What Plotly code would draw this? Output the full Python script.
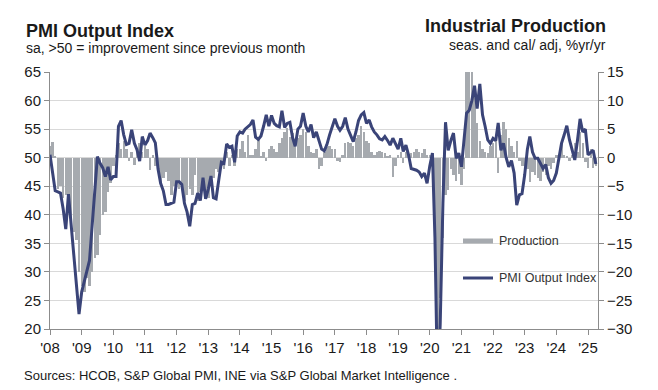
import pandas as pd
import plotly.graph_objects as go

# ---------------- data ----------------
months = pd.date_range("2008-01-01", periods=208, freq="MS")

pmi_output = [
    # 2008
    50.5, 47.5, 44.2, 44.0, 43.8, 41.0, 37.5, 43.6, 38.0, 33.0, 28.0, 22.6,
    # 2009
    26.5, 28.3, 30.2, 32.0, 38.0, 44.0, 50.2, 49.0, 48.2, 46.7, 48.4, 46.1,
    # 2010
    46.7, 46.7, 55.5, 56.5, 54.0, 52.3, 52.5, 54.9, 52.5, 51.4, 49.4, 53.7,
    # 2011
    52.2, 53.0, 54.3, 53.5, 52.6, 48.0, 45.5, 44.2, 41.8, 41.8, 42.0, 42.2,
    # 2012
    45.8, 45.8, 45.3, 42.0, 40.5, 38.0, 41.8, 42.0, 43.8, 42.5, 46.5, 42.8,
    # 2013
    44.5, 46.8, 43.0, 42.8, 46.0, 49.2, 49.0, 52.4, 51.8, 52.0, 49.2, 53.8,
    # 2014
    54.5, 54.3, 55.0, 55.5, 55.8, 56.6, 53.6, 53.2, 53.8, 55.5, 57.5, 55.5,
    # 2015
    57.4, 56.0, 55.6, 55.4, 58.2, 55.3, 56.0, 56.2, 53.5, 52.0, 55.0, 55.5,
    # 2016
    57.8, 55.5, 54.5, 55.8, 53.5, 54.5, 52.8, 51.5, 51.2, 52.3, 54.0, 55.4,
    # 2017
    56.8, 55.5, 54.8, 55.5, 57.0, 55.0, 54.0, 52.8, 54.5, 56.5, 57.5, 57.9,
    # 2018
    56.0, 56.6, 55.4, 54.5, 54.0, 53.3, 53.1, 53.7, 53.0, 52.2, 53.4, 52.5,
    # 2019
    51.5, 53.4, 51.1, 52.2, 50.5, 48.1, 48.0, 47.8, 47.5, 46.7, 47.3, 45.5,
    # 2020
    48.5, 50.8, 36.0, 9.0, 21.0, 42.0, 56.2, 51.3, 53.0, 54.3, 49.9, 50.8,
    # 2021
    48.4, 54.0, 57.8, 58.3, 60.0, 62.6, 58.6, 62.9, 57.5, 55.5, 53.1, 52.5,
    # 2022
    53.4, 53.0, 56.1, 51.3, 52.5, 50.0, 48.4, 49.5, 47.3, 41.7, 43.5, 43.7,
    # 2023
    47.0, 51.5, 53.7, 51.0, 49.9, 49.9, 49.0, 48.1, 48.8, 46.5, 45.5, 46.0,
    # 2024
    47.3, 50.0, 52.5, 54.0, 55.6, 53.1, 51.5, 49.6, 53.0, 56.8, 54.5, 55.0,
    # 2025
    50.5, 51.0, 51.3, 48.9,
]

production_yoy = [
    # 2008
    2.0, 2.8, 0.3, -5.5, -5.0, -7.0, -6.5, -8.5, -12.3, -13.0, -14.5, -20.0,
    # 2009
    -22.5, -23.5, -21.0, -22.5, -20.0, -17.5, -17.0, -13.5, -10.0, -9.5, -6.0, -4.5,
    # 2010
    -1.5, 0.5, 2.5, 1.5, 3.0, 1.5, -0.5, 1.0, -1.3, 1.5, 2.5, 1.0,
    # 2011
    2.0, 1.5, -2.2, 0.5, -1.5, -1.0, -4.5, -3.5, -2.5, -4.0, -6.5, -5.0,
    # 2012
    -4.5, -5.5, -5.0, -7.5, -6.5, -5.5, -6.5, -3.0, -7.5, -6.0, -4.5, -6.0,
    # 2013
    -7.0, -5.0, -3.5, -2.0, -2.5, -1.5, -2.0, 1.0, -1.5, 0.5, -1.5, 1.5,
    # 2014
    1.5, 3.0, 1.0, 4.0, 0.5, 0.5, 1.5, 3.5, 0.3, 1.0, -0.5, 1.5,
    # 2015
    2.0, 1.5, 1.0, 2.5, 3.5, 4.5, 5.2, 3.7, 4.3, 2.0, 3.5, 4.0,
    # 2016
    5.0, 4.5, 2.0, 1.0, 0.8, 1.5, -2.0, -1.5, 1.0, 1.8, 2.0, 1.5,
    # 2017
    1.5, -0.5, -0.7, 0.5, 2.5, 2.8, 2.5, 2.0, 3.5, 4.0, 5.5, 4.5,
    # 2018
    3.0, 2.5, 1.0, 0.5, 1.0, 1.2, 1.0, 0.8, 0.3, 0.5, -3.4, -1.5,
    # 2019
    0.5, 1.0, -1.0, 1.0, 0.5, 0.8, 1.0, 1.5, 1.0, 0.8, 1.5, 0.5,
    # 2020
    0.5, 0.0, -12.0, -33.6, -24.5, -14.1, -6.6, -5.7, -2.0, -3.0, -4.0, -2.8,
    # 2021
    -4.7, -2.0, 16.0, 48.0, 28.0, 11.3, 6.0, 3.0, 1.5, 1.0, 0.8, 2.0,
    # 2022
    2.5, 3.5, -2.7, 4.0, 6.2, 5.0, 3.5, 2.0, 1.0, 3.0, -0.5, -1.5,
    # 2023
    -1.5, -2.0, -4.2, -2.5, -3.0, -3.5, -4.0, -2.5, -3.0, -1.5, -2.0, -1.0,
    # 2024
    0.5, -0.5, 2.5, 0.5, 0.3, -0.5, 0.5, 2.5, 1.0, 4.5, 2.5, -0.8,
    # 2025
    -1.8, 1.5, -1.8, -1.5,
]

year_ticks = pd.date_range("2008-01-01", "2025-01-01", freq="YS")
year_labels = ["'" + d.strftime("%y") for d in year_ticks]

# ---------------- styling ----------------
FONT = "Liberation Sans, Arial, sans-serif"
TXT = "#1a1a1a"
BAR_C = "#A6AAAF"
LINE_C = "#3A4478"
AXIS_C = "#8C8C8C"
GRID_C = "#D9D9D9"

OFF = 8                       # default page body margin
W, H = 658 - OFF, 390 - OFF   # figure size
L, T = 50 - OFF, 72 - OFF
R = W - (598 - OFF)
B = H - (329 - OFF)
PW, PH = W - L - R, H - T - B


def px(x):   # page pixel -> paper
    return (x - OFF - L) / PW


def py(y):
    return (H - B - (y - OFF)) / PH


fig = go.Figure()
fig.add_trace(go.Bar(
    x=months, y=production_yoy, name="Production",
    marker=dict(color=BAR_C, line=dict(width=0)),
    yaxis="y", showlegend=False,
))
fig.add_trace(go.Scatter(
    x=months, y=pmi_output, name="PMI Output Index", mode="lines",
    line=dict(color=LINE_C, width=3),
    yaxis="y2", showlegend=False,
))

fig.update_layout(
    width=W, height=H,
    margin=dict(l=L, r=R, t=T, b=B, autoexpand=False),
    paper_bgcolor="white", plot_bgcolor="white",
    bargap=0,
    font=dict(family=FONT, size=13, color=TXT),
    xaxis=dict(
        type="date",
        range=["2008-01-01", "2025-04-26"],
        tickvals=list(year_ticks), ticktext=year_labels,
        ticks="outside", ticklen=5, tickcolor=AXIS_C, tickwidth=1,
        showline=True, linecolor=AXIS_C, linewidth=1,
        showgrid=False, zeroline=False,
        tickfont=dict(size=15, color=TXT),
    ),
    yaxis=dict(
        side="right",
        range=[-30, 15], tickvals=list(range(-30, 16, 5)),
        ticks="outside", ticklen=5, tickcolor=AXIS_C,
        showline=True, linecolor=AXIS_C, linewidth=1,
        showgrid=True, gridcolor=GRID_C, gridwidth=1,
        zeroline=False,
        tickfont=dict(size=15, color=TXT),
    ),
    yaxis2=dict(
        overlaying="y", side="left",
        range=[20, 65], tickvals=list(range(20, 66, 5)),
        ticks="outside", ticklen=5, tickcolor=AXIS_C,
        showline=True, linecolor=AXIS_C, linewidth=1,
        showgrid=False, zeroline=False,
        tickfont=dict(size=15, color=TXT),
    ),
)

ann = []
ann.append(dict(text="<b>PMI Output Index</b>", x=px(24), y=py(31), xanchor="left", yanchor="middle",
                font=dict(size=18, color=TXT)))
ann.append(dict(text="sa, >50 = improvement since previous month", x=px(24), y=py(48),
                xanchor="left", yanchor="middle", font=dict(size=14, color=TXT)))
ann.append(dict(text="<b>Industrial Production</b>", x=px(608), y=py(26), xanchor="right", yanchor="middle",
                font=dict(size=18, color=TXT)))
ann.append(dict(text="seas. and cal/ adj, %yr/yr", x=px(608), y=py(45), xanchor="right", yanchor="middle",
                font=dict(size=14, color=TXT)))
ann.append(dict(text="Sources: HCOB, S&P Global PMI, INE via S&P Global Market Intelligence .",
                x=px(22), y=py(375), xanchor="left", yanchor="middle", font=dict(size=13, color=TXT)))
# legend labels
ann.append(dict(text="Production", x=px(497), y=py(241), xanchor="left", yanchor="middle",
                font=dict(size=12.5, color="#333333")))
ann.append(dict(text="PMI Output Index", x=px(497), y=py(278), xanchor="left", yanchor="middle",
                font=dict(size=12.5, color="#333333")))
for a in ann:
    a.update(xref="paper", yref="paper", showarrow=False)
fig.update_layout(annotations=ann)

# legend swatches
fig.add_shape(type="rect", xref="paper", yref="paper",
              x0=px(463), x1=px(493), y0=py(238.5), y1=py(243.5),
              fillcolor=BAR_C, line=dict(width=0))
fig.add_shape(type="line", xref="paper", yref="paper",
              x0=px(463), x1=px(493), y0=py(278), y1=py(278),
              line=dict(color=LINE_C, width=3))

fig.write_html("out.html")
